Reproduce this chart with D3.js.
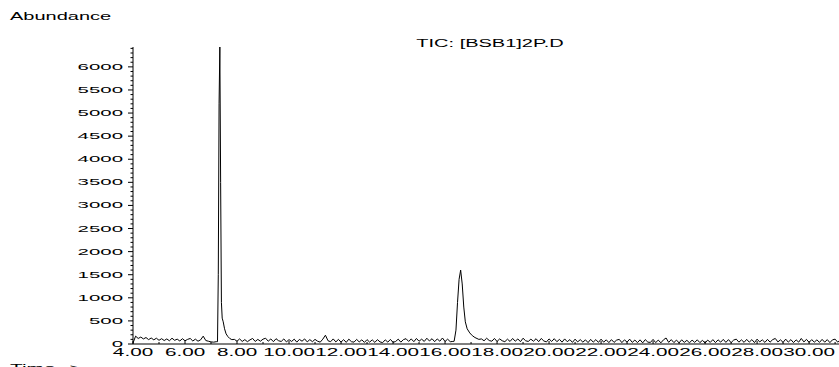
<!DOCTYPE html>
<html>
<head>
<meta charset="utf-8">
<script src="https://cdn.jsdelivr.net/npm/d3@7"></script>
<style>
  body { margin: 0; background: #fff; }
  text { font-family: "Liberation Sans", Arial, sans-serif; fill: #000; }
</style>
</head>
<body>
<svg id="chart" width="839" height="367"></svg>
<script>
// TIC chromatogram data (abundance vs retention time, minutes)
var xTicks = [4, 6, 8, 10, 12, 14, 16, 18, 20, 22, 24, 26, 28, 30];
var yTicks = [0, 500, 1000, 1500, 2000, 2500, 3000, 3500, 4000, 4500, 5000, 5500, 6000];

// baseline before first peak, 4.0 .. 7.2 every 0.1 min
var baseA = [20, 170, 120, 150, 110, 140, 95, 130, 90, 125, 80, 115, 75, 110, 70, 125, 80,
  105, 65, 115, 70, 100, 120, 65, 105, 60, 90, 170, 75, 60, 45, 40, 50];
var peak1Times = [7.25, 7.28, 7.31, 7.34, 7.37, 7.40, 7.43, 7.47, 7.52, 7.58, 7.65, 7.72, 7.80];
var peak1Values = [50, 1500, 5200, 6430, 3500, 900, 560, 480, 330, 220, 160, 120, 95];
// 7.9 .. 16.3
var baseB = [100, 60, 110, 55, 95, 50, 90, 120, 55, 100, 60, 105,
  125, 60, 110, 50, 115, 70, 55, 110, 45, 95,
  55, 105, 40, 100, 60, 110, 45, 95, 50, 100,
  60, 40, 105, 190, 70, 50, 110, 45, 100, 40,
  95, 35, 105, 50, 40, 100, 45, 90, 35, 95,
  40, 90, 35, 95, 45, 30, 90, 40, 100, 35,
  55, 105, 40, 95, 115, 55, 110, 50, 120, 60,
  105, 55, 125, 65, 115, 50, 110, 60, 130, 55, 105, 50, 55];
var peak2Times = [16.35, 16.42, 16.48, 16.54, 16.60, 16.66, 16.72, 16.78, 16.85, 16.95, 17.05, 17.15, 17.30];
var peak2Values = [60, 300, 900, 1400, 1600, 1300, 800, 480, 330, 240, 180, 140, 100];
// 17.4 .. 31.2
var baseC = [110, 70, 125, 75, 60, 120, 55, 110, 70, 50,
  105, 55, 120, 60, 110, 50, 125, 70, 55, 105,
  60, 115, 50, 120, 65, 45, 110, 55, 115, 50,
  100, 40, 110, 50, 95, 35, 105, 45, 95, 40,
  90, 30, 100, 40, 95, 35, 105, 40, 90, 30,
  95, 35, 85, 100, 30, 90, 40, 105, 35, 85,
  30, 90, 25, 95, 40, 35, 100, 30, 85, 25,
  90, 130, 35, 95, 30, 85, 25, 90, 35, 80,
  25, 85, 35, 90, 30, 80, 20, 85, 35, 95,
  30, 90, 40, 100, 35, 95, 30, 85, 105, 40,
  90, 35, 100, 40, 95, 30, 105, 45, 90, 35,
  100, 40, 95, 120, 45, 90, 35, 105, 40, 95,
  30, 90, 40, 120, 45, 100, 35, 95, 40, 90,
  35, 100, 40, 95, 30, 90, 105, 40, 90];

function seg(start, vals) {
  return vals.map(function(v, i) { return [+(start + i * 0.1).toFixed(2), v]; });
}
function pairs(ts, vs) {
  return ts.map(function(t, i) { return [t, vs[i]]; });
}
var data = [].concat(seg(4.0, baseA), pairs(peak1Times, peak1Values), seg(7.9, baseB),
  pairs(peak2Times, peak2Values), seg(17.4, baseC));

var svg = d3.select("#chart");
var x = d3.scaleLinear().domain([4, 31.15]).range([133, 839]);
var y = d3.scaleLinear().domain([0, 6430]).range([344, 47]);

// stretched labels like the instrument printout
function label(px, py, str, anchor, size, sx) {
  svg.append("text")
    .attr("transform", "translate(" + px + "," + py + ") scale(" + sx + ",1)")
    .attr("text-anchor", anchor)
    .style("font-size", size + "px")
    .text(str);
}

label(10, 20, "Abundance", "start", 10, 2);
label(490, 47, "TIC: [BSB1]2P.D", "middle", 10, 2);
label(10, 372, "Time-->", "start", 11, 1.9);

// y axis
svg.append("line").attr("x1", 133).attr("x2", 133).attr("y1", 47).attr("y2", 344)
  .attr("stroke", "#000");
d3.range(0, 6401, 100).forEach(function(v) {
  var major = v % 500 === 0;
  svg.append("line").attr("x1", 133 - (major ? 5 : 2.5)).attr("x2", 133)
    .attr("y1", y(v)).attr("y2", y(v)).attr("stroke", "#000").attr("stroke-width", 1);
});
yTicks.forEach(function(v) {
  label(123, y(v) + 3, String(v), "end", 9.5, 2.15);
});

// x axis
svg.append("line").attr("x1", 133).attr("x2", 839).attr("y1", 344).attr("y2", 344)
  .attr("stroke", "#000");
d3.range(4, 31.1, 1).forEach(function(t) {
  var major = t % 2 === 0;
  svg.append("line").attr("x1", x(t)).attr("x2", x(t))
    .attr("y1", 344).attr("y2", 344 - (major ? 3 : 2)).attr("stroke", "#000");
});
xTicks.forEach(function(t) {
  label(x(t), 356, t.toFixed(2), "middle", 11.5, 1.8);
});

// trace
var line = d3.line().x(function(d) { return x(d[0]); }).y(function(d) { return y(d[1]); });
svg.append("path").datum(data).attr("d", line)
  .attr("fill", "none").attr("stroke", "#000").attr("stroke-width", 1);
</script>
</body>
</html>
